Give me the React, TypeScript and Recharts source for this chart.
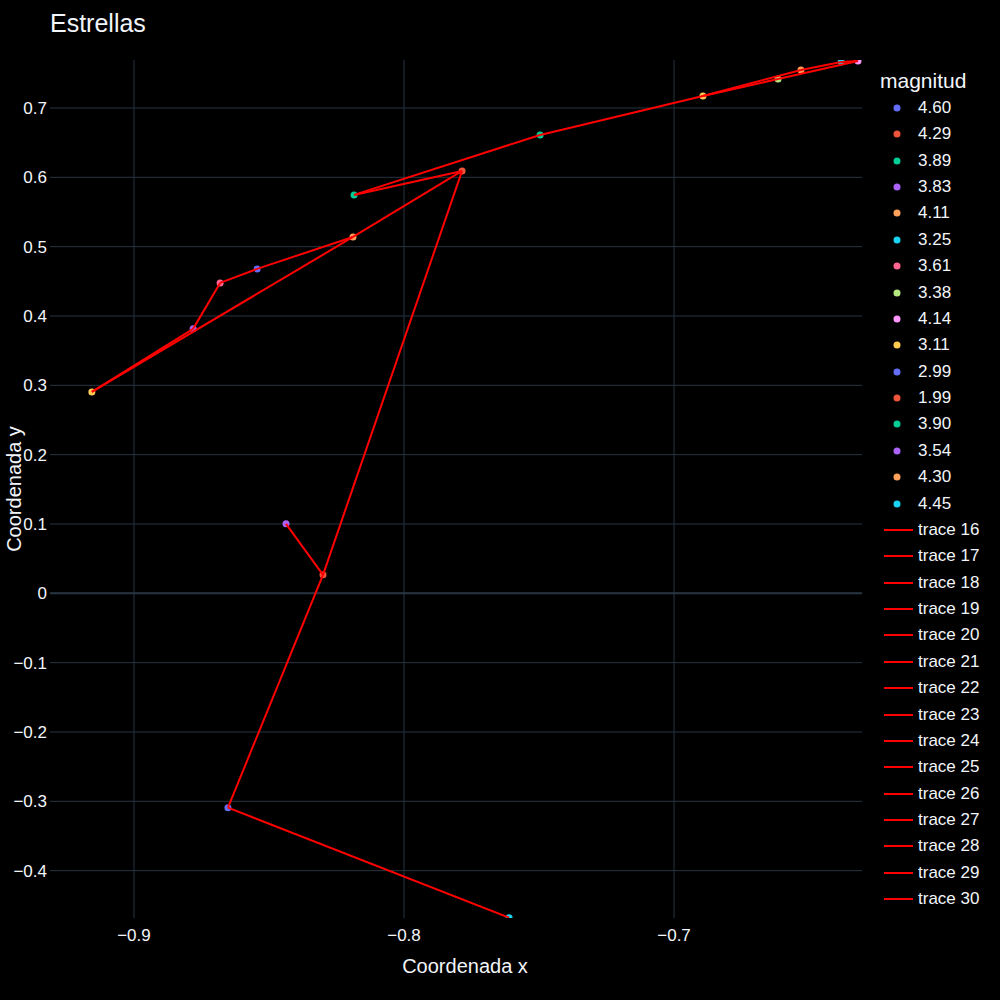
import React from 'react';
import { ScatterChart, Scatter, XAxis, YAxis, CartesianGrid, ReferenceLine } from 'recharts';

// legend entries for the star traces, in trace order
const magnitudes = ['4.60', '4.29', '3.89', '3.83', '4.11', '3.25', '3.61', '3.38', '4.14', '3.11', '2.99', '1.99', '3.90', '3.54', '4.30', '4.45'];
const palette = ['#636efa', '#EF553B', '#00cc96', '#ab63fa', '#FFA15A', '#19d3f3', '#FF6692', '#B6E880', '#FF97FF', '#FECB52'];

// star positions
const starX = [-0.6319, -0.6381, -0.653, -0.6615, -0.6893, -0.7496, -0.7785, -0.8185, -0.8189, -0.8544, -0.8681, -0.8781, -0.9156, -0.8437, -0.83, -0.8652, -0.7611];
const starY = [0.7678, 0.7663, 0.7548, 0.7418, 0.7173, 0.6611, 0.6092, 0.5746, 0.514, 0.4679, 0.4477, 0.3814, 0.2905, 0.1002, 0.0267, -0.3092, -0.4678];
const starMag = ['4.14', '3.25', '4.11', '3.38', '3.11', '3.89', '1.99', '3.90', '4.30', '4.60', '3.61', '3.83', '3.11', '3.54', '4.29', '2.99', '4.45'];

// constellation lines (star index pairs), trace 16 onwards
const edges: [number, number][] = [
  [7, 5], [5, 4], [7, 6], [6, 8], [8, 12], [8, 9], [9, 10], [10, 11], [11, 12],
  [6, 14], [14, 13], [14, 15], [15, 16], [4, 2], [2, 1], [1, 0], [4, 3], [3, 0],
];

const xTicks = [-0.9, -0.8, -0.7];
const yTicks = [-0.4, -0.3, -0.2, -0.1, 0, 0.1, 0.2, 0.3, 0.4, 0.5, 0.6, 0.7];
const xDomain: [number, number] = [-0.9311, -0.6304];
const yDomain: [number, number] = [-0.4683, 0.7692];

const FONT = '"Liberation Sans", Arial, sans-serif';
const GRID = '#283442';
const TEXT = '#f2f5fa';
const LEGEND_ROWS_SHOWN = 32; // the legend box is clipped after "trace 31"

const fmt = (v: number) => (Math.abs(v) < 1e-9 ? '0' : (v < 0 ? '\u2212' : '') + Math.abs(v).toFixed(1));

// grid only at the tick values (no extra lines on the plot edges)
const vGrid = ({ offset }: any) =>
  xTicks.map(t => offset.left + ((t - xDomain[0]) / (xDomain[1] - xDomain[0])) * offset.width);
const hGrid = ({ offset }: any) =>
  yTicks.map(t => offset.top + ((yDomain[1] - t) / (yDomain[1] - yDomain[0])) * offset.height);

const XTitle = () => (
  <text x={465} y={966} fill={TEXT} fontSize={20} fontFamily={FONT} textAnchor="middle" dominantBaseline="central">
    Coordenada x
  </text>
);

const YTitle = () => (
  <text x={14} y={489} fill={TEXT} fontSize={20} fontFamily={FONT} textAnchor="middle" dominantBaseline="central" transform="rotate(-90, 14, 489)">
    Coordenada y
  </text>
);

const legendRows = [
  ...magnitudes.map((m, i) => ({ label: m, color: palette[i % 10], kind: 'dot' })),
  ...edges.map((_, i) => ({ label: `trace ${16 + i}`, color: 'red', kind: 'line' })),
].slice(0, LEGEND_ROWS_SHOWN);

function StarLegend(): React.JSX.Element {
  return (
    <div style={{ position: 'absolute', left: 870, top: 0, width: 130, height: 918, overflow: 'hidden', fontFamily: FONT, color: TEXT }}>
      <div style={{ position: 'absolute', left: 10, top: 68, fontSize: 21, lineHeight: '26px' }}>magnitud</div>
      {legendRows.map((row, i) => (
        <div key={row.label} style={{ position: 'absolute', left: 0, top: 108 + i * 26.37 - 13, height: 26, width: 130 }}>
          <svg width={44} height={26} style={{ position: 'absolute', left: 10, top: 0 }}>
            {row.kind === 'dot'
              ? <circle cx={17} cy={13} r={3.5} fill={row.color} />
              : <line x1={4} x2={33} y1={13} y2={13} stroke={row.color} strokeWidth={2} />}
          </svg>
          <div style={{ position: 'absolute', left: 48, top: 0, fontSize: 17, lineHeight: '26px' }}>{row.label}</div>
        </div>
      ))}
    </div>
  );
}

export default function App(): React.JSX.Element {
  const starSeries = magnitudes.map((m, i) => ({
    name: m,
    color: palette[i % 10],
    data: starX.map((x, k) => ({ x, y: starY[k], mag: starMag[k] })).filter(d => d.mag === m),
  }));
  const lineSeries = edges.map(([a, b], i) => ({
    name: `trace ${16 + i}`,
    data: [{ x: starX[a], y: starY[a] }, { x: starX[b], y: starY[b] }],
  }));

  return (
    <div style={{ position: 'absolute', left: 0, top: 0, width: 1000, height: 1000, background: '#000', fontFamily: FONT }}>
      <div style={{ position: 'absolute', left: 50, top: 9, fontSize: 25, lineHeight: '28px', color: TEXT }}>Estrellas</div>
      <ScatterChart width={1000} height={1000} margin={{ top: 60, right: 138, bottom: 0, left: 0 }}>
        <CartesianGrid
          stroke={GRID}
          strokeWidth={1}
          verticalCoordinatesGenerator={vGrid}
          horizontalCoordinatesGenerator={hGrid}
        />
        <XAxis
          type="number"
          dataKey="x"
          domain={xDomain}
          allowDataOverflow
          ticks={xTicks}
          tickFormatter={fmt}
          height={82}
          axisLine={false}
          tickLine={false}
          tickSize={0}
          tickMargin={11}
          tick={{ fill: TEXT, fontSize: 17, fontFamily: FONT }}
          label={<XTitle />}
        />
        <YAxis
          type="number"
          dataKey="y"
          domain={yDomain}
          allowDataOverflow
          ticks={yTicks}
          tickFormatter={fmt}
          width={50}
          axisLine={false}
          tickLine={false}
          tickSize={0}
          tickMargin={3}
          tick={{ fill: TEXT, fontSize: 17, fontFamily: FONT }}
          label={<YTitle />}
        />
        <ReferenceLine y={0} stroke={GRID} strokeWidth={2} />
        {starSeries.map(s => (
          <Scatter
            key={s.name}
            name={s.name}
            data={s.data}
            fill={s.color}
            isAnimationActive={false}
            shape={(p: any) => <circle cx={p.cx} cy={p.cy} r={3.5} fill={s.color} />}
          />
        ))}
        {lineSeries.map(s => (
          <Scatter
            key={s.name}
            name={s.name}
            data={s.data}
            line={{ stroke: 'red', strokeWidth: 2 }}
            isAnimationActive={false}
            shape={() => <g />}
          />
        ))}
      </ScatterChart>
      <StarLegend />
    </div>
  );
}
